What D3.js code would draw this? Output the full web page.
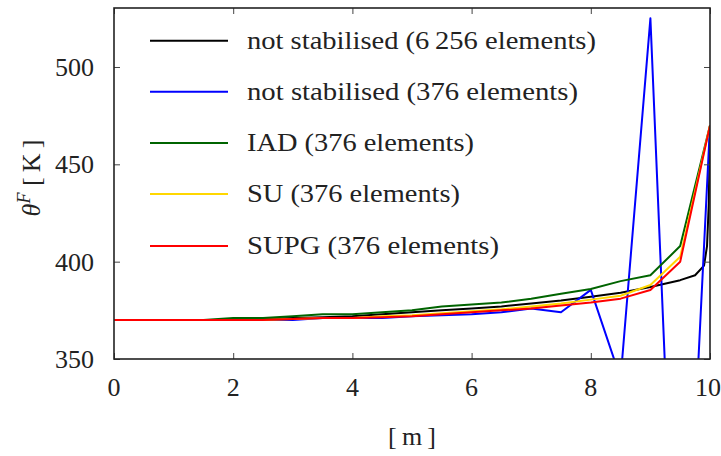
<!DOCTYPE html>
<html><head>
<script src="https://cdn.jsdelivr.net/npm/d3@7"></script>
</head><body style="margin:0"><svg id="c" width="721" height="456"></svg>
<script>
// Data
const xCoarse = [0,0.5,1,1.5,2,2.5,3,3.5,4,4.5,5,5.5,6,6.5,7,7.5,8,8.5,9,9.5,10];
const xFine = [0,0.5,1,1.5,2,2.5,3,3.5,4,4.5,5,5.5,6,6.5,7,7.5,8,8.5,9,9.5,9.75,9.9,9.95,9.98,10];
const blackY = [370,370,370,370,370,370.5,371,371.5,372,373,374,375,376,377,378.5,380,382,384,387,390.5,393,398,408,430,470];
const blueY  = [370,370,370,370,370,370,370,371,371,371,372,372.5,373,374,376,374,385.5,340,525,160,470];
const greenY = [370,370,370,370,371,371,372,373,373,374,375,377,378,379,381,383.5,386,390,393,408,470];
const yellowY= [370,370,370,370,370,370,370.5,371,371,372,372.5,373.5,374.5,375.5,377,378.5,380.5,382.5,388,402.5,470];
const redY   = [370,370,370,370,370,370,370.5,371,371,371.5,372,373,374,375,376,377.5,379,381,385.4,400,470];
const seriesNames = ["not stabilised (6\u2009256 elements)","not stabilised (376 elements)","IAD (376 elements)","SU (376 elements)","SUPG (376 elements)"];
const seriesColors = ["#000000","#0000ff","#006400","#ffd700","#ff0000"];
const xTicks = [0,2,4,6,8,10];
const yTicks = [350,400,450,500];

const svg = d3.select("#c");
const L=114, R=710, T=8, B=359;
const x = d3.scaleLinear().domain([0,10]).range([L,R]);
const y = d3.scaleLinear().domain([350,530.3]).range([B,T]);
const fs = 26;

function txt(sel){ return sel.style("font-family","Liberation Serif","important").attr("font-size",fs).attr("fill","#222"); }

svg.append("defs").append("clipPath").attr("id","clip").append("rect")
  .attr("x",L).attr("y",T).attr("width",R-L).attr("height",B-T);

const series = [
  {x:xFine, y:blackY, i:0},
  {x:xCoarse, y:blueY, i:1},
  {x:xCoarse, y:greenY, i:2},
  {x:xCoarse, y:yellowY, i:3},
  {x:xCoarse, y:redY, i:4}
];
const line = d3.line().x(d=>x(d[0])).y(d=>y(d[1]));
const g = svg.append("g").attr("clip-path","url(#clip)");
series.forEach(s=>{
  g.append("path").datum(s.x.map((v,k)=>[v,s.y[k]]))
   .attr("d",line).attr("fill","none").attr("stroke",seriesColors[s.i])
   .attr("stroke-width",2).attr("stroke-linejoin","round");
});

// Axes (ticks inward on all sides)
function styleAx(a){a.select(".domain").remove();a.selectAll("line").attr("stroke","#444").attr("stroke-width",1);}
svg.append("g").attr("transform",`translate(0,${B})`)
  .call(d3.axisBottom(x).tickValues(xTicks).tickSize(-6).tickFormat("")).call(styleAx);
svg.append("g").attr("transform",`translate(0,${T})`)
  .call(d3.axisTop(x).tickValues(xTicks).tickSize(-6).tickFormat("")).call(styleAx);
svg.append("g").attr("transform",`translate(${L},0)`)
  .call(d3.axisLeft(y).tickValues(yTicks).tickSize(-6).tickFormat("")).call(styleAx);
svg.append("g").attr("transform",`translate(${R},0)`)
  .call(d3.axisRight(y).tickValues(yTicks).tickSize(-6).tickFormat("")).call(styleAx);

svg.append("rect").attr("x",L).attr("y",T).attr("width",R-L).attr("height",B-T)
  .attr("fill","none").attr("stroke","#222").attr("stroke-width",1.6);

// tick labels
xTicks.forEach(d=>{
  txt(svg.append("text")).attr("x",d===10?721:x(d)).attr("y",396)
    .attr("text-anchor",d===10?"end":"middle").text(d);
});
yTicks.forEach(d=>{
  txt(svg.append("text")).attr("x",94).attr("y",y(d)+9).attr("text-anchor","end").text(d);
});

// axis titles
txt(svg.append("text")).attr("x",412).attr("y",445).attr("text-anchor","middle").text("[\u2009m\u2009]");
const yt = txt(svg.append("text")).attr("transform","translate(40,178) rotate(-90)").attr("text-anchor","middle");
yt.append("tspan").attr("font-style","italic").text("\u03B8");
yt.append("tspan").attr("font-style","italic").attr("font-size",18).attr("dy",-10).text("F");
yt.append("tspan").attr("dy",10).text(" [\u2009K\u2009]");

// legend
const legY = [40.7,91.7,143,194,246];
const legW = [349,331,227,213,252];
seriesNames.forEach((n,i)=>{
  svg.append("line").attr("x1",150).attr("x2",228).attr("y1",legY[i]).attr("y2",legY[i])
    .attr("stroke",seriesColors[i]).attr("stroke-width",2);
  txt(svg.append("text")).attr("x",247).attr("y",legY[i]+8)
    .attr("textLength",legW[i]).attr("lengthAdjust","spacingAndGlyphs").text(n);
});
</script></body></html>
